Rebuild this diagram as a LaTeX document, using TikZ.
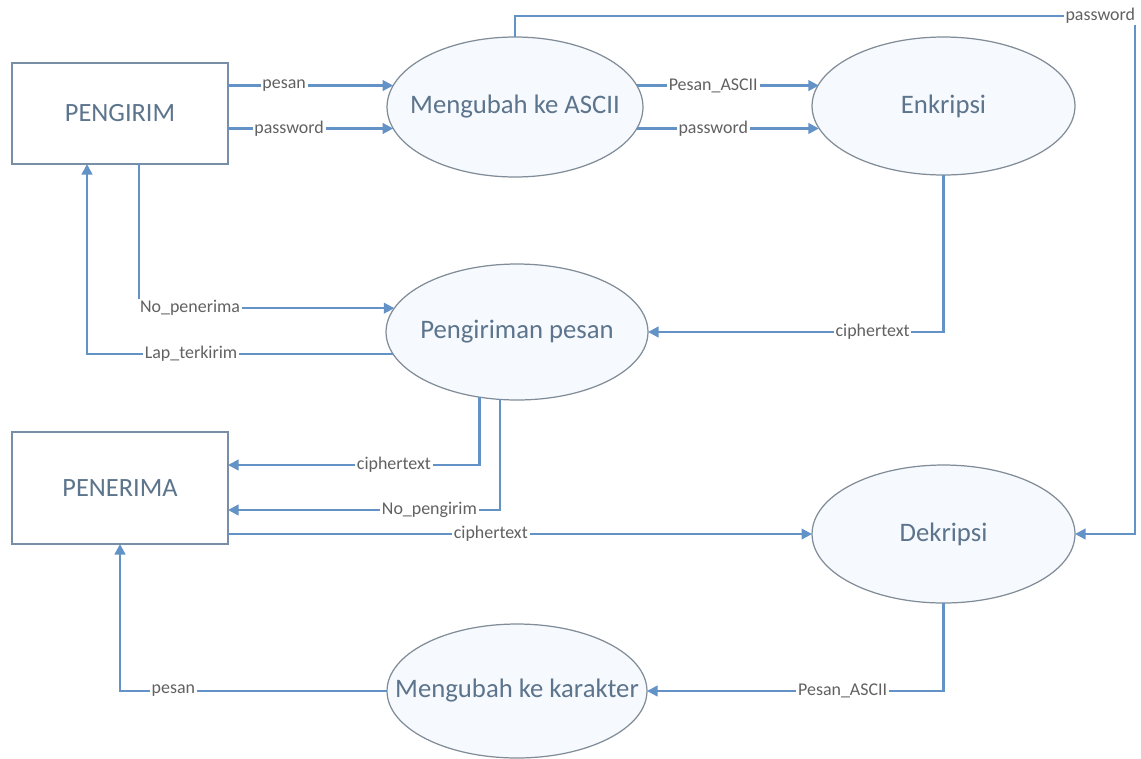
\documentclass[tikz,border=0pt]{standalone}
\usepackage{fontspec}
\setmainfont{Carlito}
\usetikzlibrary{calc,arrows.meta,shapes.geometric}

\definecolor{flowblue}{RGB}{98,146,198}
\definecolor{edgegray}{RGB}{128,140,152}
\definecolor{txtblue}{RGB}{92,116,140}
\definecolor{fillblue}{RGB}{246,249,253}

\newcommand{\ptext}[1]{\makebox[0pt]{#1}}

\tikzset{
  ent/.style={draw=edgegray!70!flowblue, line width=0.8pt, fill=white, minimum width=4.32cm,
    text=txtblue, font=\fontsize{15}{17}\selectfont, outer sep=0pt},
  proc/.style={ellipse, draw=edgegray, line width=0.7pt, fill=fillblue, text=txtblue,
    font=\fontsize{15.2}{17}\selectfont, inner sep=0pt, outer sep=0pt},
  flow/.style={draw=flowblue, line width=1.3pt, -{Triangle[length=6pt,width=6pt]}},
  lbl/.style={fill=white, inner sep=1pt, text=black!62, font=\fontsize{10.2}{11}\selectfont}
}

\begin{document}
\begin{tikzpicture}[x=0.02cm,y=-0.02cm]
  \useasboundingbox (0,0) rectangle (1141,758);

  % terminators
  \node[ent, minimum height=2.02cm] (peng) at (120,113.5) {PENGIRIM};
  \node[ent, minimum height=2.24cm] (pen) at (120,488) {PENERIMA};

  % processes
  \node[proc, minimum width=5.12cm, minimum height=2.8cm] (asc) at (515,107) {\ptext{Mengubah ke ASCII}};
  \node[proc, minimum width=5.26cm, minimum height=2.76cm] (enk) at (943.5,106) {\ptext{Enkripsi}};
  \node[proc, minimum width=5.24cm, minimum height=2.72cm] (pgp) at (517,332) {\ptext{Pengiriman pesan}};
  \node[proc, minimum width=5.26cm, minimum height=2.76cm] (dek) at (943.5,534) {\ptext{Dekripsi}};
  \node[proc, minimum width=5.2cm, minimum height=2.68cm] (kar) at (517,691) {\ptext{Mengubah ke karakter}};

  \coordinate (pwc) at (1135,16);

  % flows
  \draw[flow] (peng.east |- asc.170) -- node[lbl,pos=.34]{pesan} (asc.170);
  \draw[flow] (peng.east |- asc.190) -- node[lbl,pos=.37]{password} (asc.190);
  \draw[flow] (asc.10) -- node[lbl,pos=.42]{Pesan\_ASCII} (asc.10 -| enk.170);
  \draw[flow] (asc.350) -- node[lbl,pos=.42]{password} (asc.350 -| enk.190);
  \draw[flow] (asc.north) |- node[lbl,pos=.972]{password} (pwc) |- (dek.east);

  \draw[flow] ([xshift=0.38cm]peng.south) |- node[lbl,pos=.6]{No\_penerima} (pgp.169);
  \draw[flow] (pgp.190) -| node[lbl,pos=.33]{Lap\_terkirim} ([xshift=-0.66cm]peng.south);
  \draw[flow] (enk.south) |- node[lbl,pos=.62]{ciphertext} (pgp.east);

  \draw[flow] (pgp.240) |- node[lbl,pos=.67]{ciphertext} ([yshift=0.46cm]pen.east);
  \draw[flow] (pgp.256) |- node[lbl,pos=.63]{No\_pengirim} ([yshift=-0.44cm]pen.east);
  \draw[flow] (pen.east |- dek.west) -- node[lbl,pos=.45]{ciphertext} (dek.west);

  \draw[flow] (dek.south) |- node[lbl,pos=.67]{Pesan\_ASCII} (kar.east);
  \draw[flow] (kar.west) -| node[lbl,pos=.4]{pesan} (pen.south);
\end{tikzpicture}
\end{document}
